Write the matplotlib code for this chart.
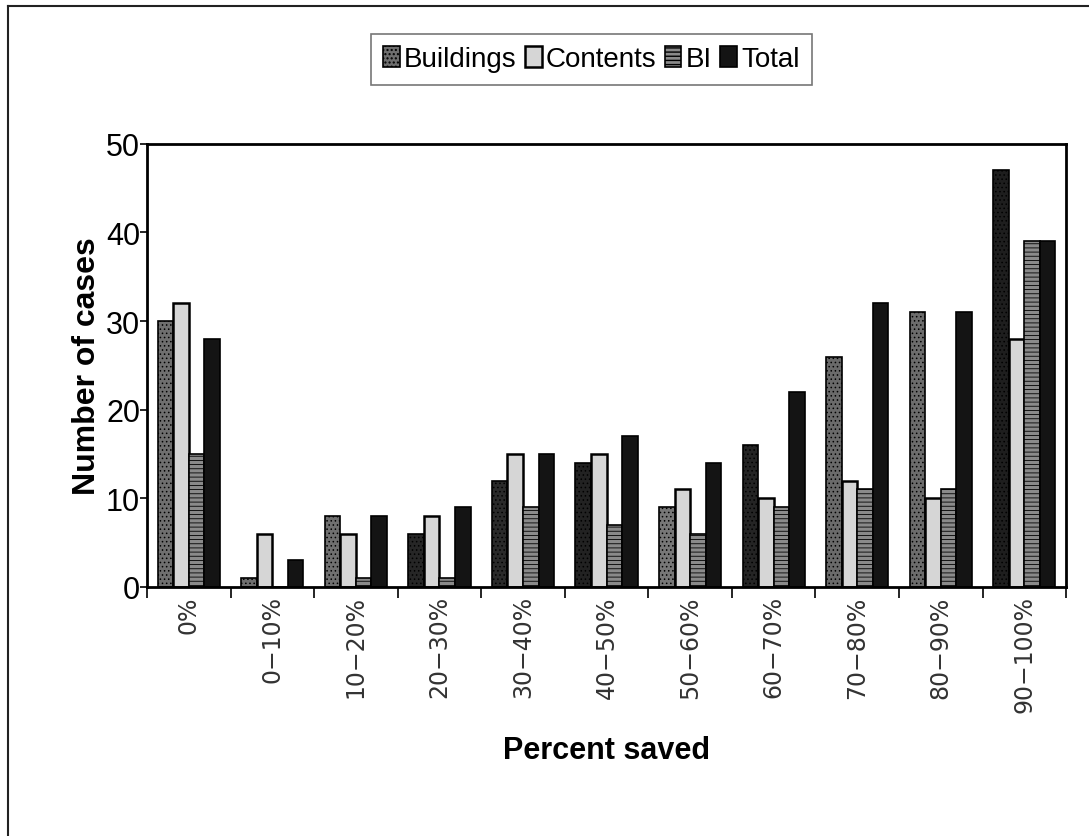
import numpy as np
import matplotlib
matplotlib.use("Agg")
import matplotlib.pyplot as plt
from matplotlib.lines import Line2D

# number of cases per saved-percentage band
categories = ["0%", "0−10%", "10−20%", "20−30%", "30−40%", "40−50%",
              "50−60%", "60−70%", "70−80%", "80−90%", "90−100%"]
buildings = [30, 1, 8, 6, 12, 14, 9, 16, 26, 31, 47]
contents = [32, 6, 6, 8, 15, 15, 11, 10, 12, 10, 28]
bi = [15, 0, 1, 1, 9, 7, 6, 9, 11, 11, 39]
total = [28, 3, 8, 9, 15, 17, 14, 22, 32, 31, 39]

series = ["Buildings", "Contents", "BI", "Total"]

# printed shades of the buildings bars (the photocopy darkens some of them)
bld_shades = ["#6f6f6f", "#6f6f6f", "#707070", "#262626", "#2a2a2a", "#222222",
              "#777777", "#242424", "#6a6a6a", "#6c6c6c", "#1e1e1e"]

arial = ["Liberation Sans", "DejaVu Sans"]

fig = plt.figure(figsize=(10.89, 8.37), dpi=100)
ax = fig.add_axes([0.135, 0.2975, 0.844, 0.5295])

x = np.arange(len(categories))
w = 0.186
offs = (np.arange(4) - 1.5) * w

plt.rcParams["hatch.color"] = "#3a3a3a"
b1 = ax.bar(x + offs[0], buildings, w, color=bld_shades, edgecolor="black",
            linewidth=1.2, hatch="....", label="Buildings")
b2 = ax.bar(x + offs[1], contents, w, color="#d6d6d6", edgecolor="black",
            linewidth=1.8, label="Contents")
b3 = ax.bar(x + offs[2], bi, w, color="#8a8a8a", edgecolor="black",
            linewidth=1.2, hatch="----", label="BI")
b4 = ax.bar(x + offs[3], total, w, color="#141414", edgecolor="black",
            linewidth=1.2, label="Total")
for bars in (b1, b3):
    for p in bars:
        p.set_hatch_linewidth(0.6)

ax.set_xlim(-0.5, len(categories) - 0.5)
ax.set_ylim(0, 50)
ax.set_yticks([0, 10, 20, 30, 40, 50])
ax.set_yticklabels(["0", "10", "20", "30", "40", "50"], family=arial, fontsize=22)
ax.tick_params(axis="y", direction="out", length=5, width=1.2, pad=0)

# ticks sit between the categories, labels under each group
ax.set_xticks(np.arange(len(categories) + 1) - 0.5)
ax.set_xticklabels([])
ax.set_xticks(x, minor=True)
ax.set_xticklabels(categories, minor=True, rotation=90, family="DejaVu Sans",
                   fontsize=17, color="#333333", va="top")
ax.tick_params(axis="x", which="major", direction="out", length=8, width=1.2)
ax.tick_params(axis="x", which="minor", length=0, pad=6)

for s in ax.spines.values():
    s.set_linewidth(2)
    s.set_color("black")

ax.set_ylabel("Number of cases", family=arial, fontweight="bold", fontsize=23,
              labelpad=3)
ax.set_xlabel("Percent saved", family=arial, fontweight="bold", fontsize=22,
              labelpad=16)

leg = fig.legend(handles=[b1, b2, b3, b4], labels=series, loc="center",
                 bbox_to_anchor=(0.543, 0.928), ncol=4, frameon=True,
                 fancybox=False, edgecolor="#555555", borderpad=0.45,
                 handlelength=0.6, handleheight=0.8, handletextpad=0.15,
                 columnspacing=0.3, prop={"family": arial, "size": 20})
leg.get_frame().set_linewidth(1.2)

# outer chart frame
fig.add_artist(Line2D([0.007, 1.0], [0.992, 0.992], color="#222222", lw=1.5))
fig.add_artist(Line2D([0.007, 0.007], [0.0, 0.992], color="#222222", lw=1.5))

fig.savefig("out.png", dpi=100)
